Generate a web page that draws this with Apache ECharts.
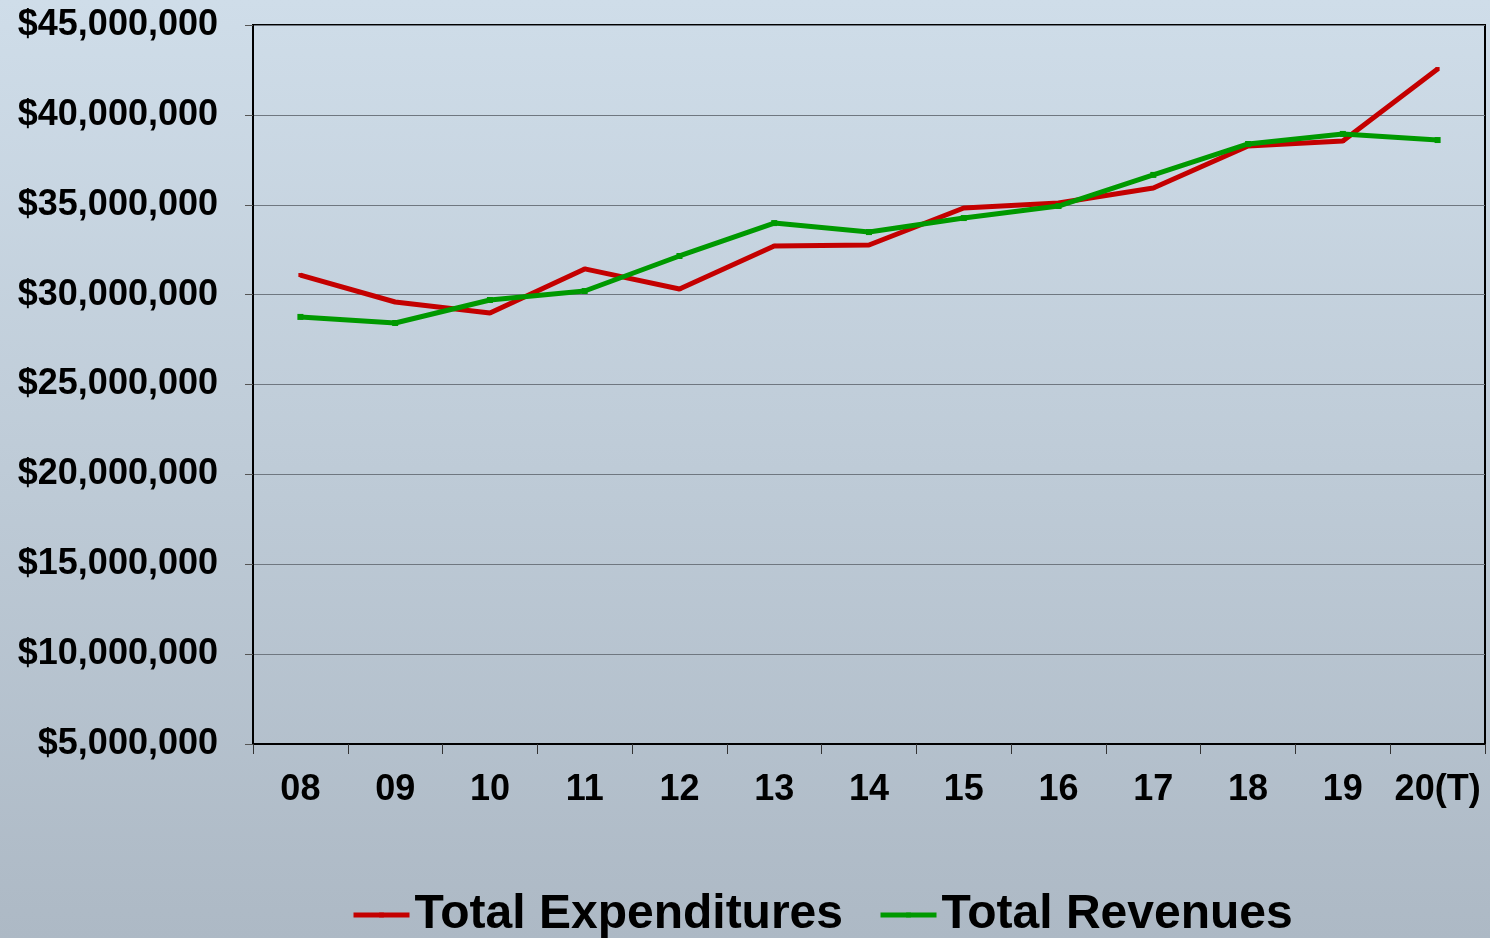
<!DOCTYPE html>
<html>
<head>
<meta charset="utf-8">
<script src="https://cdn.jsdelivr.net/npm/echarts@6/dist/echarts.min.js"></script>
<style>
  html, body { margin: 0; padding: 0; }
  #Root { width: 1490px; height: 938px; }
</style>
</head>
<body>
<div id="Root"></div>
<script>
// years on the x axis
let Years = ["08", "09", "10", "11", "12", "13", "14", "15", "16", "17", "18", "19", "20(T)"]
// values, in dollars
let Expenditures = [31090000, 29590000, 28980000, 31430000, 30310000, 32710000, 32760000, 34820000, 35100000, 35930000, 38270000, 38550000, 42550000]
let Revenues = [28760000, 28420000, 29700000, 30200000, 32150000, 33980000, 33480000, 34260000, 34930000, 36660000, 38380000, 38940000, 38600000]

let chart = echarts.init(document.getElementById("Root"))

let FontName = "'Liberation Sans', Arial, sans-serif"

let options = {
    backgroundColor: {
        type: 'linear', x: 0, y: 0, x2: 0, y2: 1,
        colorStops: [
            { offset: 0, color: '#cfdde9' },
            { offset: 1, color: '#adb9c5' }
        ]
    },
    animation: false,
    grid: {
        left: 253,
        right: 5,
        top: 25,
        bottom: 194,
        show: true,
        borderColor: '#000',
        borderWidth: 2,
        backgroundColor: 'transparent'
    },
    legend: {
        left: 346,
        bottom: -6,
        itemWidth: 56,
        itemHeight: 6,
        itemGap: 35,
        lineStyle: { width: 5 },
        textStyle: {
            fontFamily: FontName,
            fontWeight: 'bold',
            fontSize: 48,
            color: '#000'
        },
        data: ['Total Expenditures', 'Total Revenues']
    },
    xAxis: {
        type: 'category',
        data: Years,
        boundaryGap: true,
        axisLine: { lineStyle: { color: '#000', width: 2 } },
        axisTick: { show: true, interval: 0, length: 10, lineStyle: { color: '#333' } },
        axisLabel: {
            interval: 0,
            margin: 28,
            fontFamily: FontName,
            fontWeight: 'bold',
            fontSize: 36,
            color: '#000'
        }
    },
    yAxis: {
        type: 'value',
        min: 5000000,
        max: 45000000,
        interval: 5000000,
        axisLine: { show: true, lineStyle: { color: '#000', width: 2 } },
        axisTick: { show: true, length: 8, lineStyle: { color: '#555' } },
        splitLine: { show: true, lineStyle: { color: '#6f7780', width: 1 } },
        axisLabel: {
            margin: 35,
            padding: [5, 0, 0, 0],
            fontFamily: FontName,
            fontWeight: 'bold',
            fontSize: 36,
            color: '#000',
            formatter: function (v) {
                return '$' + v.toLocaleString('en-US')
            }
        }
    },
    series: [
        {
            name: 'Total Expenditures',
            type: 'line',
            data: Expenditures,
            color: '#c40000',
            symbol: 'rect',
            symbolSize: 4,
            lineStyle: { width: 5, color: '#c40000' },
            itemStyle: { color: '#c40000' }
        },
        {
            name: 'Total Revenues',
            type: 'line',
            data: Revenues,
            color: '#009900',
            symbol: 'rect',
            symbolSize: 6,
            lineStyle: { width: 5, color: '#009900' },
            itemStyle: { color: '#009900' }
        }
    ]
}

chart.setOption(options)
</script>
</body>
</html>
